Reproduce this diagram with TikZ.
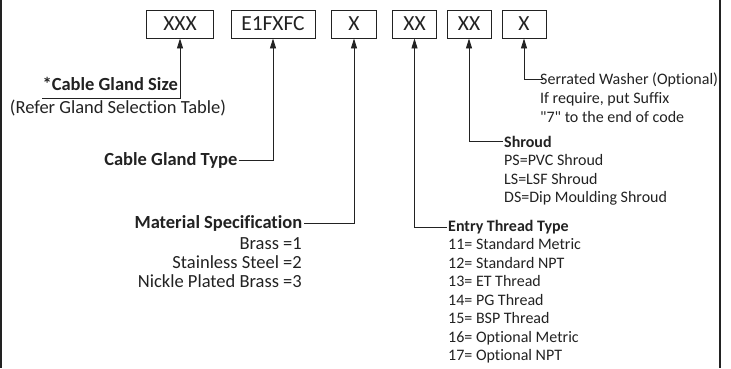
\documentclass[tikz,border=0pt]{standalone}
\usepackage{fontspec}
\setmainfont{Carlito}[Ligatures={TeXOff,NoCommon}]
\usetikzlibrary{arrows.meta}
\definecolor{ink}{HTML}{222222}
\begin{document}
\begin{tikzpicture}[x=1pt,y=-1pt,
  codebox/.style={draw=ink, line width=0.9pt, minimum height=28pt, inner sep=0pt,
    text=ink, font=\fontsize{21.5}{24}\selectfont},
  lead/.style={draw=ink, line width=0.9pt, -{Triangle[width=6pt,length=10pt]}},
  frame/.style={draw=ink, line width=1.8pt},
  big/.style={font=\fontsize{18.5}{21}\selectfont, inner sep=0pt, text=ink},
  bigb/.style={font=\bfseries\fontsize{18.5}{21}\selectfont, inner xsep=1.5pt, inner ysep=0pt, text=ink},
  small/.style={font=\fontsize{16}{18.5}\selectfont, inner sep=0pt, text=ink},
  smallb/.style={font=\bfseries\fontsize{16}{18.5}\selectfont, inner xsep=1.5pt, inner ysep=0pt, text=ink}]
\useasboundingbox (0,0) rectangle (731,368);
\draw[frame] (1,0) -- (1,368);
\draw[frame] (720,0) -- (720,368);

% code boxes
\node[codebox, minimum width=67pt] (b1) at (180,24) {XXX};
\node[codebox, minimum width=84pt] (b2) at (273,24) {E1FXFC};
\node[codebox, minimum width=45pt] (b3) at (354,24) {X};
\node[codebox, minimum width=44pt] (b4) at (414.5,24) {XX};
\node[codebox, minimum width=44pt] (b5) at (469,24) {XX};
\node[codebox, minimum width=44pt] (b6) at (524,24) {X};

% cable gland size
\node[bigb, anchor=mid east, inner xsep=0pt] (sizeT) at (178,88) {*Cable Gland Size};
\node[big, anchor=mid] (sizeN) at (118,111) {(Refer Gland Selection Table)};
\coordinate (sizeC) at (b1.south |- 0,98);
\coordinate (sizeL) at (sizeT.west |- 0,98);
\draw[lead] (sizeL) -- (sizeC) -- (b1.south);

% cable gland type
\node[bigb, anchor=mid east] (typeT) at (239,163) {Cable Gland Type};
\draw[lead] (typeT.east) -| (b2.south);

% material
\node[bigb, anchor=mid east] (matT) at (304,226) {Material Specification};
\draw[lead] (matT.east) -| (b3.south);
\node[big, anchor=mid east] (mat1) at (302,247) {Brass =1};
\node[big, anchor=mid east] (mat2) at (302,266) {Stainless Steel =2};
\node[big, anchor=mid east] (mat3) at (302,285) {Nickle Plated Brass =3};

% entry thread
\node[smallb, anchor=mid west] (entT) at (446.5,229) {Entry Thread Type};
\draw[lead] (entT.west) -| (b4.south);
\foreach \t [count=\i] in {11= Standard Metric, 12= Standard NPT, 13= ET Thread,
    14= PG Thread, 15= BSP Thread, 16= Optional Metric, 17= Optional NPT}
  \node[small, anchor=mid west] (ent\i) at (448,{229+18.5*\i}) {\t};

% shroud
\node[smallb, anchor=mid west] (shT) at (502.5,145) {Shroud};
\draw[lead] (shT.west) -| (b5.south);
\node[small, anchor=mid west] (sh1) at (504,163.5) {PS=PVC Shroud};
\node[small, anchor=mid west] (sh2) at (504,182) {LS=LSF Shroud};
\node[small, anchor=mid west] (sh3) at (504,200.5) {DS=Dip Moulding Shroud};

% serrated washer
\node[small, anchor=mid west] (serT) at (540,82) {Serrated Washer (Optional)};
\coordinate (serC) at ([xshift=3pt]serT.west);
\draw[lead] (serC) -| (b6.south);
\node[small, anchor=mid west] (ser2) at (540,101) {If require, put Suffix};
\node[small, anchor=mid west] (ser3) at (540,120) {"7" to the end of code};
\end{tikzpicture}
\end{document}
